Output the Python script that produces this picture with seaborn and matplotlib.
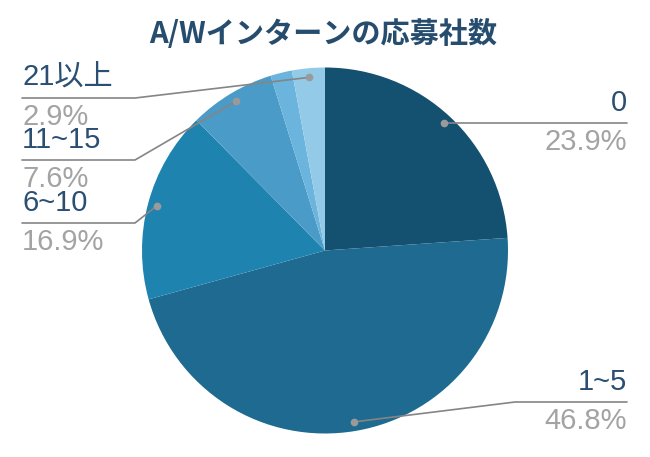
import numpy as np
import matplotlib
matplotlib.use('Agg')
import matplotlib.pyplot as plt
import seaborn as sns

sns.set_theme(style='white')
plt.rcParams['font.family'] = ['Liberation Sans', 'Noto Sans CJK JP', 'DejaVu Sans']

# ── データ
CATEGORIES = ['0', '1~5', '6~10', '11~15', '16~20', '21以上']
VALUES     = [23.9, 46.8, 16.9, 7.6, 1.9, 2.9]
SHOW_LABEL = [True, True, True, True, False, True]
COLORS     = ['#14506f', '#1e6a90', '#1f83b0', '#4a9bc7', '#6ab4dd', '#93cae7']

NAME_COLOR = '#2b4f72'
PCT_COLOR  = '#a3a3a3'
LINE_COLOR = '#858585'

# ── レイアウト (px 基準)
W, H   = 650, 457
CX, CY = 325, 250.5
R      = 183

fig = plt.figure(figsize=(W / 100, H / 100), dpi=100)
ax = fig.add_axes([0, 0, 1, 1])

def px(x, y):
    return (x - CX) / R, (CY - y) / R

ax.pie(VALUES, colors=COLORS, startangle=90, counterclock=False, radius=1,
       wedgeprops=dict(linewidth=0))
ax.set_xlim(-CX / R, (W - CX) / R)
ax.set_ylim(-(H - CY) / R, CY / R)
ax.set_aspect('equal')
ax.axis('off')

# ラベル位置: (side, line_y_px, elbow_x_px)
label_pos = {
    '0':      ('right', 123, None),
    '1~5':    ('right', 402, 515),
    '6~10':   ('left', 223, 135),
    '11~15':  ('left', 160, 135),
    '21以上': ('left', 98, 135),
}

total = sum(VALUES)
start = 90.0
for cat, val, show in zip(CATEGORIES, VALUES, SHOW_LABEL):
    sweep = val / total * 360
    mid = np.deg2rad(start - sweep / 2)
    start -= sweep
    if not show:
        continue
    dx, dy = 0.95 * np.cos(mid), 0.95 * np.sin(mid)
    side, ly, ex = label_pos[cat]
    _, ly_d = px(0, ly)
    if side == 'right':
        end_x, _ = px(627, 0)
        elbow = dx if ex is None else px(ex, 0)[0]
        ha, tx = 'right', end_x
    else:
        end_x, _ = px(22, 0)
        elbow = px(ex, 0)[0]
        ha, tx = 'left', end_x
    ax.plot([dx, elbow, end_x], [dy, ly_d, ly_d], color=LINE_COLOR, lw=1.2,
            solid_joinstyle='miter', clip_on=False, zorder=3)
    ax.plot([dx], [dy], 'o', color='#9a9a9a', ms=4.5, zorder=4, clip_on=False)
    ax.annotate(cat, (tx, ly_d), xytext=(0, 4.5), textcoords='offset points',
                ha=ha, va='bottom', fontsize=21, color=NAME_COLOR)
    ax.annotate(f'{val:.1f}%', (tx, ly_d), xytext=(0, -3.5), textcoords='offset points',
                ha=ha, va='top', fontsize=21, color=PCT_COLOR)

fig.text(323 / W, 1 - 34 / H, 'A/Wインターンの応募社数', ha='center', va='center',
         fontsize=21, fontweight='bold', color='#264d6e',
         family=['Noto Sans CJK JP', 'DejaVu Sans'])

plt.savefig('out.png', dpi=100)
plt.close()
